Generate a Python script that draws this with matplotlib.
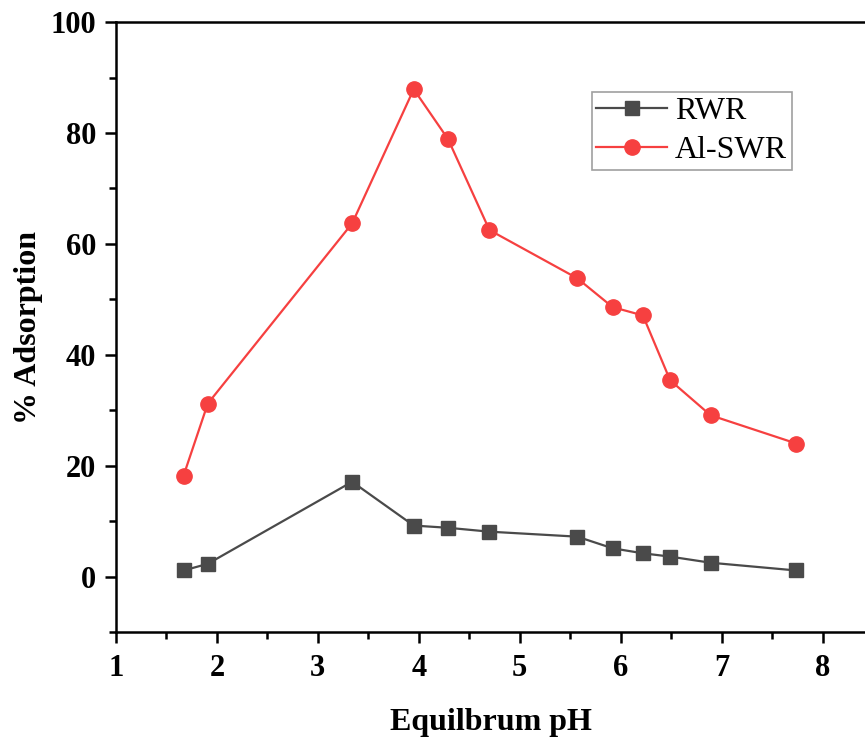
from matplotlib import pyplot as plt
from matplotlib.ticker import MultipleLocator

# Equilibrium pH values (shared by both series).
ph = [1.67, 1.91, 3.34, 3.95, 4.29, 4.70, 5.57, 5.92, 6.22, 6.49, 6.89, 7.74]

# Percent adsorption for each material.
rwr = [1.1, 2.3, 17.1, 9.2, 8.8, 8.1, 7.2, 5.1, 4.2, 3.6, 2.5, 1.1]
al_swr = [18.2, 31.2, 63.7, 87.9, 78.9, 62.5, 53.8, 48.6, 47.1, 35.4, 29.1, 24.0]

plt.rcParams['font.family'] = ['Liberation Serif', 'DejaVu Serif']

fig = plt.figure(figsize = (8.65, 7.38), dpi = 100)
ax = fig.add_axes([0.134, 0.1436, 0.866, 0.8264])

ax.plot(ph, rwr, color = '#4a4a4a', lw = 1.6, marker = 's',
    markersize = 10, label = 'RWR')
ax.plot(ph, al_swr, color = '#f64040', lw = 1.6, marker = 'o',
    markersize = 11, label = 'Al-SWR')

ax.set_xlim(1, 8.42)
ax.set_ylim(-10, 100)
ax.xaxis.set_major_locator(MultipleLocator(1))
ax.xaxis.set_minor_locator(MultipleLocator(0.5))
ax.yaxis.set_major_locator(MultipleLocator(20))
ax.yaxis.set_minor_locator(MultipleLocator(10))

# Axis styling.
ax.spines['right'].set_visible(False)
for side in ['left', 'bottom', 'top']:
    ax.spines[side].set_linewidth(1.8)
ax.tick_params(which = 'both', direction = 'out', width = 1.8,
    top = False, right = False)
ax.tick_params(which = 'major', length = 8, labelsize = 22)
ax.tick_params(axis = 'x', which = 'major', pad = 8)
ax.tick_params(axis = 'y', which = 'major', pad = 6)
ax.tick_params(which = 'minor', length = 5)
for label in ax.get_xticklabels() + ax.get_yticklabels():
    label.set_fontweight('bold')

ax.set_xlabel('Equilbrum pH', fontsize = 23, fontweight = 'bold', labelpad = 18)
ax.set_ylabel('% Adsorption', fontsize = 23, fontweight = 'bold', labelpad = 6)

legend = ax.legend(loc = 'upper left', bbox_to_anchor = (0.635, 0.885),
    fontsize = 23, frameon = True, fancybox = False, handlelength = 2.2,
    borderaxespad = 0, borderpad = 0.15, labelspacing = 0.3,
    handletextpad = 0.25)
legend.get_frame().set_edgecolor('#888888')
legend.get_frame().set_linewidth(1.2)

plt.savefig('out.png')
